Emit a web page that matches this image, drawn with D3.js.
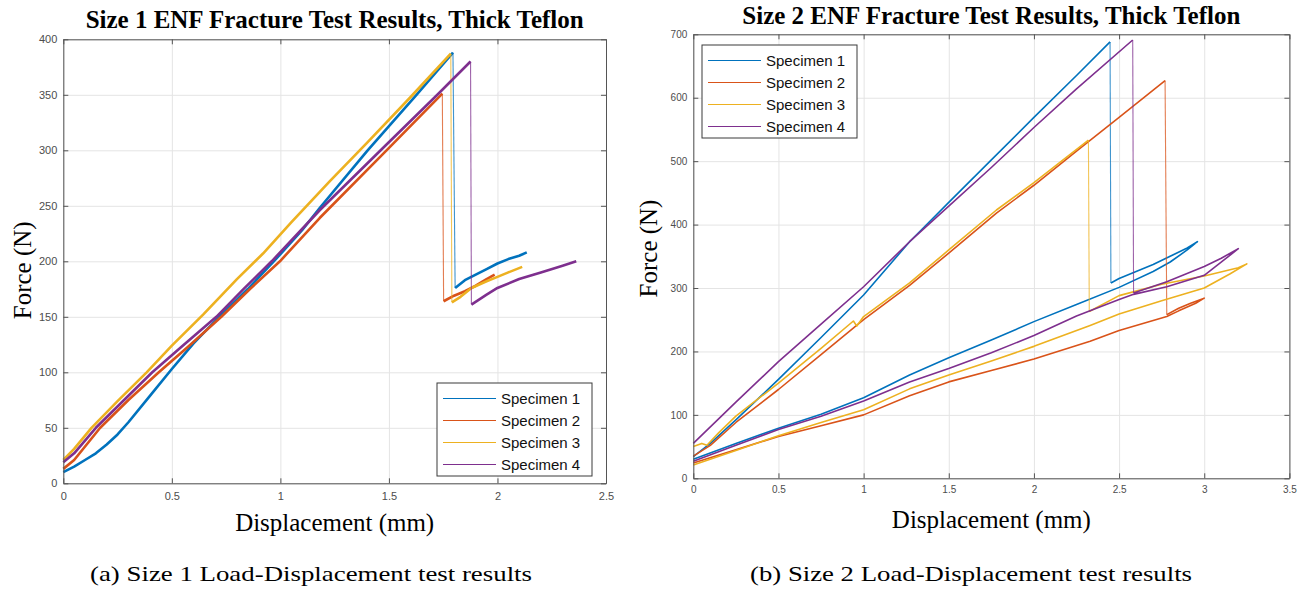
<!DOCTYPE html>
<html>
<head>
<meta charset="utf-8">
<script src="https://cdn.jsdelivr.net/npm/d3@7/dist/d3.min.js"></script>
<style>
  body { margin: 0; background: #fff; }
  .tick text { fill: #4d4d4d; font-family: "Liberation Sans", Arial, sans-serif; }
</style>
</head>
<body>
<div id="chart"></div>
<script>
const width = 1311;
const height = 594;

const specimenNames = ["Specimen 1", "Specimen 2", "Specimen 3", "Specimen 4"];
const specimenColors = ["#0072bd", "#d95319", "#edb120", "#7e2f8e"];

// Size 1 — [displacement mm, force N]
const size1XTicks = [0, 0.5, 1, 1.5, 2, 2.5];
const size1YTicks = [0, 50, 100, 150, 200, 250, 300, 350, 400];
const size1Loading = [
  [[0,10],[0.05,15],[0.1,21],[0.15,27],[0.2,35],[0.25,44],[0.3,55],[0.4,79],[0.5,103],[0.6,126],[0.728,152],[0.85,175],[0.975,201],[1.1,228],[1.181,248],[1.402,300],[1.627,350],[1.795,388]],
  [[0,13],[0.05,21],[0.17,50],[0.3,75],[0.44,100],[0.58,124],[0.728,150],[0.86,175],[0.998,200],[1.181,239],[1.489,300],[1.746,351]],
  [[0,21],[0.05,31],[0.13,50],[0.25,74],[0.384,100],[0.5,124],[0.644,152],[0.8,184],[0.92,207],[1.05,235],[1.227,272],[1.4,307],[1.6,348],[1.785,387]],
  [[0,19],[0.05,27],[0.15,50],[0.28,75],[0.41,100],[0.55,124],[0.705,150],[0.83,175],[0.96,200],[1.181,246],[1.462,300],[1.723,350],[1.876,380]]
];
const size1Reload = [
  [[1.805,176],[1.85,183],[1.9,188],[1.95,193],[2.0,198],[2.05,202],[2.1,205],[2.135,208]],
  [[1.752,164],[1.8,169],[1.85,173],[1.9,178],[1.95,184],[1.987,188]],
  [[1.79,163],[1.83,168],[1.88,176],[1.95,182],[2.0,186],[2.05,190],[2.114,195]],
  [[1.88,161],[1.95,170],[2.0,176],[2.1,184],[2.2,190],[2.3,196],[2.363,200]]
];

// Size 2 — [displacement mm, force N]
const size2XTicks = [0, 0.5, 1, 1.5, 2, 2.5, 3, 3.5];
const size2YTicks = [0, 100, 200, 300, 400, 500, 600, 700];
const size2Loading = [
  [[0,34],[0.1,55],[0.25,92],[0.5,156],[0.75,222],[1.0,289],[1.27,373],[1.5,435],[1.75,502],[2.0,569],[2.25,635],[2.447,688]],
  [[0,35],[0.1,52],[0.25,88],[0.5,140],[0.75,195],[1.0,250],[1.27,304],[1.5,355],[1.78,418],[2.0,462],[2.25,516],[2.5,569],[2.77,627]],
  [[0,50],[0.05,55],[0.08,52],[0.15,72],[0.25,98],[0.5,150],[0.75,205],[0.94,248],[0.96,240],[1.0,255],[1.27,308],[1.5,360],[1.78,423],[2.0,466],[2.32,533]],
  [[0,55],[0.25,120],[0.5,184],[0.75,243],[1.0,302],[1.27,373],[1.5,429],[1.75,490],[2.0,553],[2.25,614],[2.58,691]]
];
const size2Reload = [
  [[2.452,308],[2.5,315],[2.6,326],[2.7,337],[2.8,350],[2.9,363],[2.96,373],[2.9,360],[2.8,341],[2.7,326],[2.5,301],[2.25,274],[2.0,247],[1.75,218],[1.5,190],[1.27,163],[1.0,127],[0.75,101],[0.5,79],[0.25,55],[0,30]],
  [[2.78,258],[2.85,268],[2.92,276],[3.0,284],[2.95,276],[2.85,264],[2.78,255],[2.5,233],[2.33,216],[2.0,188],[1.75,170],[1.5,152],[1.27,130],[1.0,100],[0.75,83],[0.5,66],[0.25,45],[0,24]],
  [[2.325,263],[2.5,288],[2.75,306],[3.0,319],[3.2,332],[3.25,338],[3.15,322],[3.0,300],[2.75,280],[2.5,259],[2.33,241],[2.0,208],[1.75,185],[1.5,163],[1.27,141],[1.0,108],[0.75,88],[0.5,67],[0.25,44],[0,21]],
  [[2.585,292],[2.78,310],[3.0,334],[3.1,347],[3.2,362],[3.12,345],[3.0,320],[2.78,302],[2.585,290],[2.5,282],[2.25,256],[2.0,225],[1.75,198],[1.5,173],[1.27,152],[1.0,122],[0.75,98],[0.5,77],[0.25,52],[0,27]]
];

const svg = d3.select("#chart")
  .append("svg")
  .attr("width", width)
  .attr("height", height);

const fmt = d3.format("~g");

function drawPanel(p) {
  const x = d3.scaleLinear().domain(p.xDomain).range([p.left, p.right]);
  const y = d3.scaleLinear().domain(p.yDomain).range([p.bottom, p.top]);
  const g = svg.append("g");

  // grid
  g.append("g")
    .attr("transform", `translate(0,${p.bottom})`)
    .call(d3.axisBottom(x).tickValues(p.xTicks).tickSize(-(p.bottom - p.top)).tickFormat(""))
    .call(a => a.select(".domain").remove())
    .call(a => a.selectAll("line").attr("stroke", "#e4e4e4"));
  g.append("g")
    .attr("transform", `translate(${p.left},0)`)
    .call(d3.axisLeft(y).tickValues(p.yTicks).tickSize(-(p.right - p.left)).tickFormat(""))
    .call(a => a.select(".domain").remove())
    .call(a => a.selectAll("line").attr("stroke", "#e4e4e4"));

  // curves: loading, thin drop at fracture, then reload/unload
  const line = d3.line().x(d => x(d[0])).y(d => y(d[1]));
  specimenNames.forEach((name, i) => {
    const load = p.loading[i];
    const after = p.reload[i];
    g.append("path")
      .attr("d", line([load[load.length - 1], after[0]]))
      .attr("fill", "none")
      .attr("stroke", specimenColors[i])
      .attr("stroke-opacity", 0.75)
      .attr("stroke-width", 1.1);
    [load, after].forEach(seg => {
      g.append("path")
        .attr("d", line(seg))
        .attr("fill", "none")
        .attr("stroke", specimenColors[i])
        .attr("stroke-width", p.lineWidth)
        .attr("stroke-linejoin", "round");
    });
  });

  // axes, ticks inward on all four sides
  const axisColor = "#555";
  const styleAxis = a => {
    a.select(".domain").attr("stroke", axisColor);
    a.selectAll(".tick line").attr("stroke", axisColor);
    a.selectAll(".tick text").style("font-size", p.tickFont + "px");
  };
  g.append("g")
    .attr("transform", `translate(0,${p.bottom})`)
    .call(d3.axisBottom(x).tickValues(p.xTicks).tickSize(-5).tickSizeOuter(0).tickPadding(p.xPad).tickFormat(fmt))
    .call(styleAxis);
  g.append("g")
    .attr("transform", `translate(0,${p.top})`)
    .call(d3.axisTop(x).tickValues(p.xTicks).tickSize(-5).tickSizeOuter(0).tickFormat(""))
    .call(styleAxis);
  g.append("g")
    .attr("transform", `translate(${p.left},0)`)
    .call(d3.axisLeft(y).tickValues(p.yTicks).tickSize(-5).tickSizeOuter(0).tickPadding(p.yPad).tickFormat(fmt))
    .call(styleAxis);
  g.append("g")
    .attr("transform", `translate(${p.right},0)`)
    .call(d3.axisRight(y).tickValues(p.yTicks).tickSize(-5).tickSizeOuter(0).tickFormat(""))
    .call(styleAxis);

  // legend
  const lg = g.append("g");
  lg.append("rect")
    .attr("x", p.legend.x).attr("y", p.legend.y)
    .attr("width", 155).attr("height", 93)
    .attr("fill", "#fff").attr("stroke", "#3a3a3a").attr("stroke-width", 1);
  specimenNames.forEach((name, i) => {
    const ry = p.legend.y + 15.5 + i * 22;
    lg.append("line")
      .attr("x1", p.legend.x + 6).attr("x2", p.legend.x + 59)
      .attr("y1", ry).attr("y2", ry)
      .attr("stroke", specimenColors[i]).attr("stroke-width", 1);
    lg.append("text")
      .attr("x", p.legend.x + 64).attr("y", ry).attr("dy", "0.36em")
      .attr("font-family", "Liberation Sans, Arial, sans-serif")
      .attr("font-size", 15).attr("fill", "#111")
      .text(name);
  });

  // titles and labels
  const cx = (p.left + p.right) / 2;
  svg.append("text")
    .attr("x", cx).attr("y", p.titleY)
    .attr("text-anchor", "middle")
    .attr("font-family", "Liberation Serif, Times New Roman, serif")
    .attr("font-weight", "bold").attr("font-size", 25)
    .attr("textLength", 498).attr("lengthAdjust", "spacingAndGlyphs")
    .text(p.title);
  svg.append("text")
    .attr("x", cx).attr("y", p.xLabelY)
    .attr("text-anchor", "middle")
    .attr("font-family", "Liberation Serif, Times New Roman, serif")
    .attr("font-size", 25)
    .attr("textLength", 199).attr("lengthAdjust", "spacingAndGlyphs")
    .text("Displacement (mm)");
  svg.append("text")
    .attr("transform", `translate(${p.yLabelX},${(p.top + p.bottom) / 2 + p.yLabelShift}) rotate(-90)`)
    .attr("text-anchor", "middle")
    .attr("font-family", "Liberation Serif, Times New Roman, serif")
    .attr("font-size", 25)
    .text("Force (N)");
  svg.append("text")
    .attr("x", p.captionX).attr("y", 581)
    .attr("text-anchor", "middle")
    .attr("font-family", "Liberation Serif, Times New Roman, serif")
    .attr("font-size", 22)
    .attr("textLength", 442).attr("lengthAdjust", "spacingAndGlyphs")
    .text(p.caption);
}

drawPanel({
  left: 63.3, right: 606, top: 39.3, bottom: 483.3,
  xDomain: [0, 2.5], yDomain: [0, 400],
  xTicks: size1XTicks, yTicks: size1YTicks,
  loading: size1Loading, reload: size1Reload,
  lineWidth: 2.6, tickFont: 11, xPad: 9, yPad: 6,
  legend: { x: 437, y: 383 },
  title: "Size 1 ENF Fracture Test Results, Thick Teflon", titleY: 28,
  xLabelY: 531, yLabelX: 31, yLabelShift: 9,
  caption: "(a) Size 1 Load-Displacement test results", captionX: 311
});

drawPanel({
  left: 693.3, right: 1289.4, top: 34.3, bottom: 478.3,
  xDomain: [0, 3.5], yDomain: [0, 700],
  xTicks: size2XTicks, yTicks: size2YTicks,
  loading: size2Loading, reload: size2Reload,
  lineWidth: 1.6, tickFont: 10, xPad: 8, yPad: 6,
  legend: { x: 702, y: 45 },
  title: "Size 2 ENF Fracture Test Results, Thick Teflon", titleY: 24,
  xLabelY: 528, yLabelX: 657, yLabelShift: -7.8,
  caption: "(b) Size 2 Load-Displacement test results", captionX: 971
});
</script>
</body>
</html>
